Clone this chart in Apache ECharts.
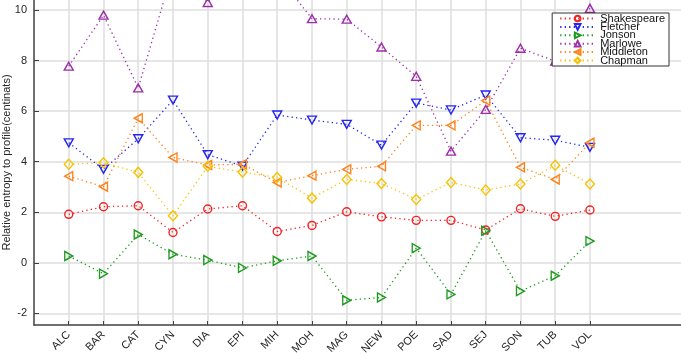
<!DOCTYPE html>
<html>
<head>
<meta charset="utf-8">
<script src="https://cdn.jsdelivr.net/npm/echarts@6/dist/echarts.min.js"></script>
<style>
  html, body { margin: 0; padding: 0; background: #fff; }
  #chart { width: 681px; height: 353px; }
</style>
</head>
<body>
<div id="chart"></div>
<script>
const plays = ["ALC", "BAR", "CAT", "CYN", "DIA", "EPI", "MIH", "MOH", "MAG", "NEW", "POE", "SAD", "SEJ", "SON", "TUB", "VOL"];
const yTicks = [-2, 0, 2, 4, 6, 8, 10];

const shakespeare = [1.92, 2.22, 2.26, 1.20, 2.13, 2.26, 1.24, 1.48, 2.02, 1.82, 1.68, 1.68, 1.30, 2.14, 1.84, 2.09];
const fletcher = [4.75, 3.70, 4.91, 6.44, 4.28, 3.83, 5.85, 5.65, 5.48, 4.66, 6.32, 6.05, 6.64, 4.95, 4.85, 4.57];
const jonson = [0.27, -0.43, 1.12, 0.34, 0.11, -0.20, 0.08, 0.27, -1.48, -1.37, 0.58, -1.25, 1.27, -1.12, -0.51, 0.86];
const marlowe = [7.78, 9.80, 6.92, 11.6, 10.3, 12.2, 11.4, 9.66, 9.64, 8.54, 7.38, 4.42, 6.07, 8.49, 7.98, 10.07];
const middleton = [3.43, 3.01, 5.72, 4.17, 3.87, 3.90, 3.18, 3.45, 3.70, 3.82, 5.44, 5.44, 6.42, 3.78, 3.30, 4.75];
const chapman = [3.90, 3.96, 3.58, 1.86, 3.82, 3.59, 3.38, 2.56, 3.30, 3.14, 2.51, 3.18, 2.88, 3.12, 3.86, 3.12];

const font = "Liberation Sans, Arial, Helvetica, sans-serif";
const axisColor = "#404040";
const gridColor = "#dedede";

// name, values, colour, symbol, size, rotate
const authors = [
  ["Shakespeare", shakespeare, "#f02424", "circle", 8, 0],
  ["Fletcher", fletcher, "#2626f0", "triangle", [9, 8], 180],
  ["Jonson", jonson, "#1f9a1f", "triangle", [9, 8], -90],
  ["Marlowe", marlowe, "#9c2fa8", "triangle", [9, 8], 0],
  ["Middleton", middleton, "#ff8217", "triangle", [9, 8], 90],
  ["Chapman", chapman, "#f7c300", "diamond", [9, 10], 0],
];

const series = authors.map(function (a) {
  return {
    name: a[0],
    type: "line",
    data: a[1].map(function (v, i) { return [i + 1, v]; }),
    symbol: a[3],
    symbolSize: a[4],
    symbolRotate: a[5],
    showSymbol: true,
    clip: true,
    lineStyle: { color: a[2], width: 1.3, type: [1.3, 3.2] },
    itemStyle: { color: "rgba(255,255,255,0)", borderColor: a[2], borderWidth: 1.4 },
    emphasis: { disabled: true },
  };
});

const chart = echarts.init(document.getElementById("chart"), null, { renderer: "canvas" });
chart.setOption({
  animation: false,
  backgroundColor: "#fff",
  textStyle: { fontFamily: font },
  grid: { left: 34, right: 0, top: 0, bottom: 28, containLabel: false, outerBoundsMode: "none" },
  legend: {
    orient: "vertical",
    right: 12,
    top: 13,
    padding: [0, 4, 0, 7],
    itemWidth: 35,
    itemHeight: 7,
    itemGap: -2.6,
    backgroundColor: "#fff",
    borderColor: "#333",
    borderWidth: 1,
    borderRadius: 0,
    textStyle: { fontSize: 11, lineHeight: 9, color: "#111", fontFamily: font },
    data: authors.map(function (a) { return a[0]; }),
  },
  xAxis: {
    type: "value",
    min: 0,
    max: 18.62,
    axisLine: { show: true, onZero: false, lineStyle: { color: axisColor, width: 1.5 } },
    axisTick: { show: true, inside: true, length: 4, customValues: plays.map(function (p, i) { return i + 1; }), lineStyle: { color: axisColor } },
    axisLabel: {
      customValues: plays.map(function (p, i) { return i + 1; }),
      formatter: function (v) { return plays[Math.round(v) - 1] || ""; },
      rotate: 45,
      margin: 8,
      fontSize: 11,
      color: "#262626",
      fontFamily: font,
    },
    splitLine: { show: true, lineStyle: { color: gridColor, width: 1.5 } },
  },
  yAxis: {
    type: "value",
    min: -2.46,
    max: 10.4,
    name: "Relative entropy to profile(centinats)",
    nameLocation: "middle",
    nameRotate: 90,
    nameGap: 22,
    nameMoveOverlap: false,
    nameTextStyle: { fontSize: 11, color: "#262626", fontFamily: font },
    axisLine: { show: true, lineStyle: { color: axisColor, width: 1.5 } },
    axisTick: { show: true, inside: true, length: 5, customValues: yTicks, lineStyle: { color: axisColor } },
    axisLabel: { customValues: yTicks, margin: 7, fontSize: 11, color: "#262626", fontFamily: font },
    splitLine: { show: true, lineStyle: { color: gridColor, width: 1.5 } },
  },
  series: series,
});
</script>
</body>
</html>
